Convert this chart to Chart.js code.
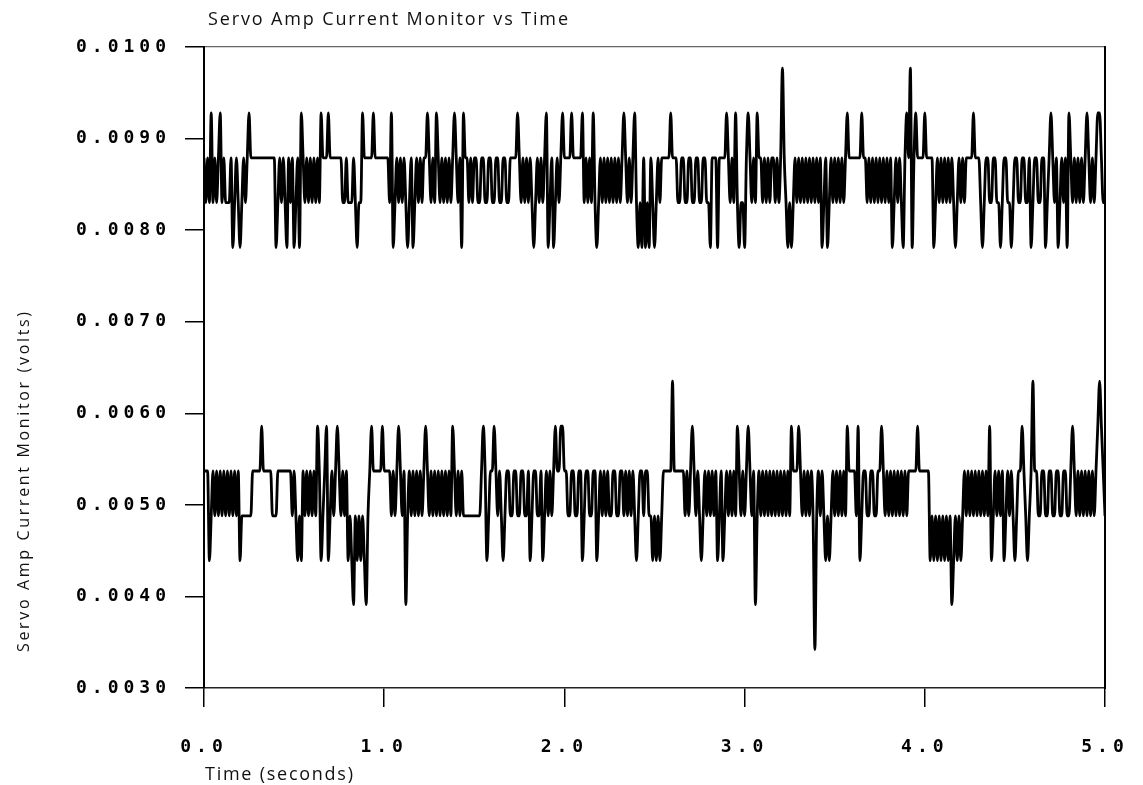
<!DOCTYPE html>
<html>
<head>
	<title>Servo Amp Current Monitor vs Time</title>
	<script src="https://cdn.jsdelivr.net/npm/chart.js@4.4.0/dist/chart.umd.min.js" type="text/javascript"></script>
	<style>
		html, body { margin: 0; padding: 0; background: #fff; }
	</style>
</head>
<body>
	<canvas id="servo" width="1143" height="785"></canvas>
<script>
	// quantised levels of the recorder (volts)
	const upperLevels = [0.00781, 0.00830, 0.00879, 0.00928, 0.00977];
	const lowerLevels = [0.00342, 0.00391, 0.00439, 0.00488, 0.00537, 0.00586, 0.00635];
	// one digit per 0.01 s sample = index into the level list, 0.5 s per string
	const upperTrace = [
		"21213121231211120121012123222222222222220121210212",
		"01203212121212132223222222211211121011322222322222",
		"22213012121210120121212232121321212121232120322121",
		"22112211221122112211222232121212101212123012012123",
		"22223222223121213101212121212121232121231010201021",
		"01212222232221122112211221122110222022223212131011",
		"02321213221212122121242101012121212121212120120121",
		"21212123222222232212121212121212012121023240232222",
		"32222012121212121012121222232221012211221101221101",
		"221122112012211220123212012120321212121232121233211"
	];
	const lowerTrace = [
		"44423434343434343434233333344444544444333444444443",
		"43232434343435423452343454343423213232321345444445",
		"44443434543413434343434543434343434343543434333333",
		"33334542344543432344334433443342344334234343454455",
		"44334433442344334423434343344334434343432344344332",
		"32323444446444444343454343234343434234234343435434",
		"34543413434343434343434343544454343434303434323234",
		"34343435444435234433443344543434343434343444445444",
		"44423232323232312323234343434343434352343434234343",
		"234454323464433443344334433443345434343434343456543"
	];
	const sampleStep = 0.01;
	const xTicks = [0, 1, 2, 3, 4, 5];
	const yTicks = [0.003, 0.004, 0.005, 0.006, 0.007, 0.008, 0.009, 0.010];
	const chartTitle = "Servo Amp Current Monitor vs Time";
	const xTitle = "Time (seconds)";
	const yTitle = "Servo Amp Current Monitor (volts)";

	function toPoints(chunks, levels) {
		return chunks.join("").split("").map((c, i) => ({ x: i * sampleStep, y: levels[+c] }));
	}

	// draw text stretched to a given width with letter spacing
	function spacedText(ctx, text, x, y, width) {
		ctx.letterSpacing = "0px";
		const natural = ctx.measureText(text).width;
		ctx.letterSpacing = ((width - natural) / (text.length - 1)) + "px";
		ctx.fillText(text, x, y);
		ctx.letterSpacing = "0px";
	}

	// fixed box sizes so the plot area sits where the scan has it
	function fixHeight(h) {
		return (s) => { s.height = h; s.paddingLeft = 0; s.paddingRight = 0; };
	}
	function fixWidth(w) {
		return (s) => { s.width = w; s.paddingTop = 0; s.paddingBottom = 0; };
	}

	const textPlugin = {
		id: "scanText",
		beforeDraw(chart) {
			chart.ctx.letterSpacing = "5px";
		},
		afterDraw(chart) {
			const ctx = chart.ctx;
			ctx.save();
			ctx.fillStyle = "#111";
			ctx.textAlign = "left";
			ctx.textBaseline = "alphabetic";
			ctx.font = '18px "Open Sans"';
			spacedText(ctx, chartTitle, 208, 25, 360);
			spacedText(ctx, xTitle, 205, 780, 148);
			ctx.font = '16px "Open Sans"';
			ctx.translate(29, 652);
			ctx.rotate(-Math.PI / 2);
			spacedText(ctx, yTitle, 0, 0, 340);
			ctx.restore();
			ctx.letterSpacing = "0px";
		}
	};

	const tickFont = { family: '"DejaVu Sans Mono", monospace', size: 18, weight: "bold" };

	new Chart(document.getElementById("servo"), {
		type: "line",
		data: {
			datasets: [
				{
					label: "upper",
					data: toPoints(upperTrace, upperLevels),
					borderColor: "#000",
					borderWidth: 2.8,
					pointRadius: 0,
					cubicInterpolationMode: "monotone",
					fill: false
				},
				{
					label: "lower",
					data: toPoints(lowerTrace, lowerLevels),
					borderColor: "#000",
					borderWidth: 2.8,
					pointRadius: 0,
					cubicInterpolationMode: "monotone",
					fill: false
				}
			]
		},
		options: {
			responsive: false,
			devicePixelRatio: 1,
			animation: false,
			parsing: false,
			layout: { padding: 0, autoPadding: false },
			plugins: {
				legend: { display: false },
				tooltip: { enabled: false },
				title: { display: false }
			},
			scales: {
				x: {
					type: "linear",
					position: "bottom",
					min: 0,
					max: 5,
					afterFit: fixHeight(97),
					afterBuildTicks: (s) => { s.ticks = xTicks.map(v => ({ value: v })); },
					grid: { display: true, drawOnChartArea: false, tickLength: 19, color: "#000", lineWidth: 1.5 },
					border: { display: true, color: "#222", width: 1.5, dash: [10, 2] },
					ticks: { color: "#000", padding: 30, maxRotation: 0, font: tickFont, callback: (v) => v.toFixed(1) }
				},
				xTop: {
					type: "linear",
					position: "top",
					min: 0,
					max: 5,
					afterFit: fixHeight(47),
					grid: { display: true, drawOnChartArea: false, drawTicks: false },
					border: { display: true, color: "#666", width: 1.2, dash: [6, 4] },
					ticks: { display: false }
				},
				y: {
					type: "linear",
					position: "left",
					min: 0.003,
					max: 0.010,
					afterFit: fixWidth(204),
					afterBuildTicks: (s) => { s.ticks = yTicks.map(v => ({ value: v })); },
					grid: { display: true, drawOnChartArea: false, tickLength: 19, color: "#000", lineWidth: 1.5 },
					border: { display: true, color: "#000", width: 2 },
					ticks: { color: "#000", padding: 14, font: tickFont, callback: (v) => v.toFixed(4) }
				},
				yRight: {
					type: "linear",
					position: "right",
					min: 0.003,
					max: 0.010,
					afterFit: fixWidth(38),
					grid: { display: true, drawOnChartArea: false, drawTicks: false },
					border: { display: true, color: "#000", width: 2 },
					ticks: { display: false }
				}
			}
		},
		plugins: [textPlugin]
	});
</script>
</body>
</html>
